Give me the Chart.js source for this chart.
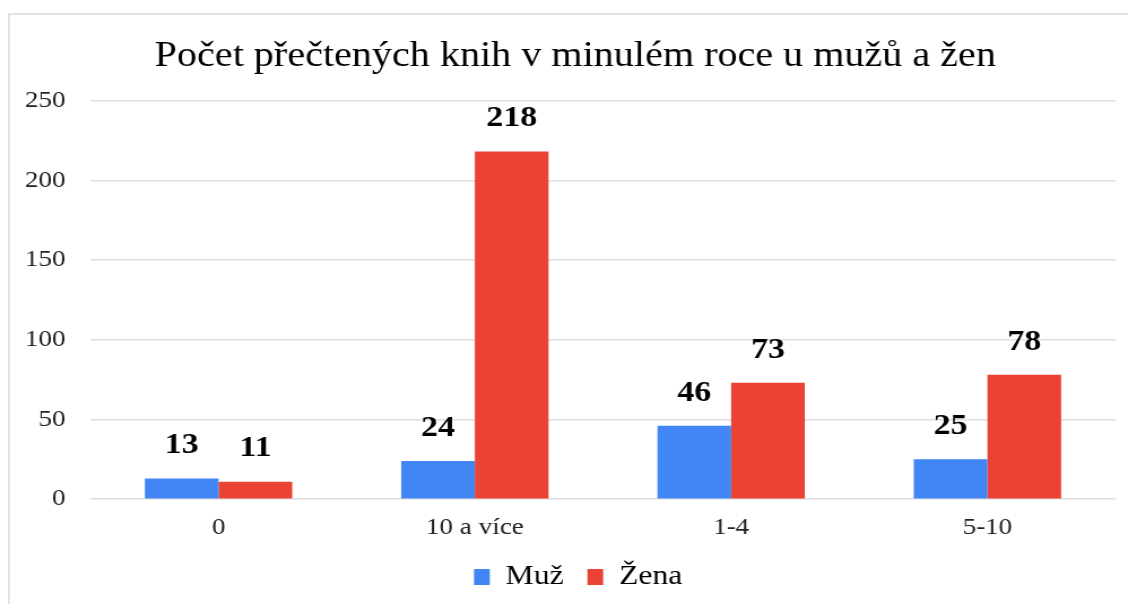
<!DOCTYPE html>
<html><head><meta charset="utf-8">
<script src="https://cdn.jsdelivr.net/npm/chart.js@4"></script>
<style>
html,body{margin:0;padding:0;background:#fff;overflow:hidden}
#frame{position:absolute;left:8px;top:13px;width:1200px;height:700px;border-left:2px solid #e3e3e3;border-top:2px solid #e3e3e3}
#wrap{position:absolute;left:0;top:0;width:1128px;height:604px}
</style></head>
<body>
<div id="frame"></div>
<div id="wrap"><canvas id="c" width="998" height="604" style="width:1128px;height:604px"></canvas></div>
<script>
const categories = ["0", "10 a více", "1-4", "5-10"];
const muz = [13, 24, 46, 25];
const zena = [11, 218, 73, 78];
const seriesNames = ["Muž", "Žena"];
const yTicks = [0, 50, 100, 150, 200, 250];

const serif = "'Liberation Serif','Times New Roman',serif";

const labelPlugin = {
  id: 'valueLabels',
  afterLayout(chart) {
    if (chart.titleBlock) { chart.titleBlock.left += 31; }
    if (chart.legend) {
      chart.legend.left += 36;
      chart.legend.top -= 14;
      chart.legend.bottom -= 14;
    }
  },
  afterDatasetsDraw(chart) {
    const ctx = chart.ctx;
    ctx.save();
    ctx.font = "bold 30px " + serif;
    ctx.fillStyle = "#000";
    ctx.textAlign = "center";
    ctx.textBaseline = "middle";
    chart.data.datasets.forEach((ds, i) => {
      chart.getDatasetMeta(i).data.forEach((bar, j) => {
        ctx.fillText(String(ds.data[j]), bar.x, bar.y - 33);
      });
    });
    ctx.restore();
  }
};

new Chart(document.getElementById('c'), {
  type: 'bar',
  data: {
    labels: categories,
    datasets: [
      { label: seriesNames[0], data: muz, backgroundColor: '#4285F4', borderWidth: 0 },
      { label: seriesNames[1], data: zena, backgroundColor: '#EA4335', borderWidth: 0 }
    ]
  },
  options: {
    responsive: false,
    animation: false,
    devicePixelRatio: 1,
    layout: { padding: { left: 0, right: 11, top: 20, bottom: -11 } },
    datasets: { bar: { categoryPercentage: 0.575, barPercentage: 1.0 } },
    plugins: {
      title: {
        display: true,
        text: 'Počet přečtených knih v minulém roce u mužů a žen',
        font: { family: serif, size: 35.5, weight: 'normal' },
        color: '#000',
        padding: { top: 15, bottom: 23 }
      },
      legend: {
        position: 'bottom',
        labels: {
          font: { family: serif, size: 28 },
          color: '#000',
          boxWidth: 14, boxHeight: 16,
          padding: 21
        }
      },
      tooltip: { enabled: false }
    },
    scales: {
      x: {
        grid: { display: false, drawTicks: false },
        border: { display: false },
        ticks: { font: { family: serif, size: 24 }, color: '#222', padding: 14 }
      },
      y: {
        min: 0, max: 250,
        afterBuildTicks(scale) { scale.ticks = yTicks.map(v => ({ value: v })); },
        grid: { color: '#dedede', lineWidth: 1.5, drawTicks: false },
        border: { display: false },
        ticks: { font: { family: serif, size: 24 }, color: '#222', padding: 22 }
      }
    }
  },
  plugins: [labelPlugin]
});
</script>
</body></html>
